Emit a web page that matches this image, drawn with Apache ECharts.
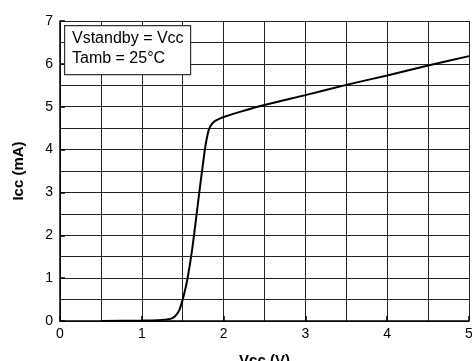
<!DOCTYPE html>
<html>
<head>
<meta charset="utf-8">
<script src="https://cdn.jsdelivr.net/npm/echarts@6/dist/echarts.min.js"></script>
<style>html,body{margin:0;padding:0;background:#fff;}#c{width:472px;height:361px;}</style>
</head>
<body>
<div id="c"></div>
<script>
var vcc = [0.5, 1.0, 1.2, 1.35, 1.4, 1.45, 1.48, 1.52, 1.56, 1.62, 1.69, 1.77, 1.81, 1.84, 1.89, 1.95, 2.0, 2.2, 2.5, 3.0, 3.5, 4.0, 4.5, 5.0];
var icc = [0.0, 0.01, 0.02, 0.05, 0.1, 0.22, 0.37, 0.65, 1.0, 1.73, 2.8, 3.99, 4.4, 4.55, 4.66, 4.72, 4.76, 4.88, 5.04, 5.27, 5.51, 5.73, 5.96, 6.18];
var xTicks = [0, 1, 2, 3, 4, 5];
var yTicks = [0, 1, 2, 3, 4, 5, 6, 7];
var legendLines = ['Vstandby = Vcc', 'Tamb = 25\u00B0C'];

var pts = vcc.map(function (v, i) { return [v, icc[i]]; });
var font = 'Liberation Sans, Arial, sans-serif';
var gridColor = '#222';

var chart = echarts.init(document.getElementById('c'));
chart.setOption({
  animation: false,
  backgroundColor: '#fff',
  grid: { left: 60, right: 3, top: 21, bottom: 40, containLabel: false, outerBoundsMode: 'none' },
  xAxis: {
    type: 'value', min: xTicks[0], max: xTicks[xTicks.length - 1], interval: 1,
    name: 'Vcc (V)', nameLocation: 'middle', nameGap: 32,
    nameTextStyle: { fontFamily: font, fontSize: 15, fontWeight: 'bold', color: '#000' },
    axisLine: { show: true, lineStyle: { color: '#000', width: 1.5 } },
    axisTick: { show: true, inside: true, length: 5, lineStyle: { color: '#000', width: 1.5 } },
    axisLabel: { fontFamily: font, fontSize: 14, color: '#000', margin: 6 },
    splitLine: { show: true, lineStyle: { color: gridColor, width: 1 } },
    minorTick: { show: false, splitNumber: 2 },
    minorSplitLine: { show: true, lineStyle: { color: gridColor, width: 1 } }
  },
  yAxis: {
    type: 'value', min: yTicks[0], max: yTicks[yTicks.length - 1], interval: 1,
    name: 'Icc (mA)', nameLocation: 'middle', nameGap: 34, nameRotate: 90,
    nameTextStyle: { fontFamily: font, fontSize: 15, fontWeight: 'bold', color: '#000' },
    axisLine: { show: true, lineStyle: { color: '#000', width: 1.5 } },
    axisTick: { show: true, inside: true, length: 5, lineStyle: { color: '#000', width: 1.5 } },
    axisLabel: { fontFamily: font, fontSize: 14, color: '#000', margin: 7 },
    splitLine: { show: true, lineStyle: { color: gridColor, width: 1 } },
    minorTick: { show: false, splitNumber: 2 },
    minorSplitLine: { show: true, lineStyle: { color: gridColor, width: 1 } }
  },
  series: [{
    type: 'line', data: pts, showSymbol: false, smooth: 0.2,
    lineStyle: { color: '#000', width: 2 }, z: 5
  }],
  graphic: [
    { type: 'rect', left: 64, top: 25, z: 100, shape: { x: 0, y: 0, width: 126, height: 49 },
      style: { fill: '#fff', stroke: '#333', lineWidth: 1.2 } },
    { type: 'text', left: 72, top: 31, z: 101, style: { text: legendLines[0], font: '16px ' + font, fill: '#000' } },
    { type: 'text', left: 72, top: 51, z: 101, style: { text: legendLines[1], font: '16px ' + font, fill: '#000' } }
  ]
});
</script>
</body>
</html>
